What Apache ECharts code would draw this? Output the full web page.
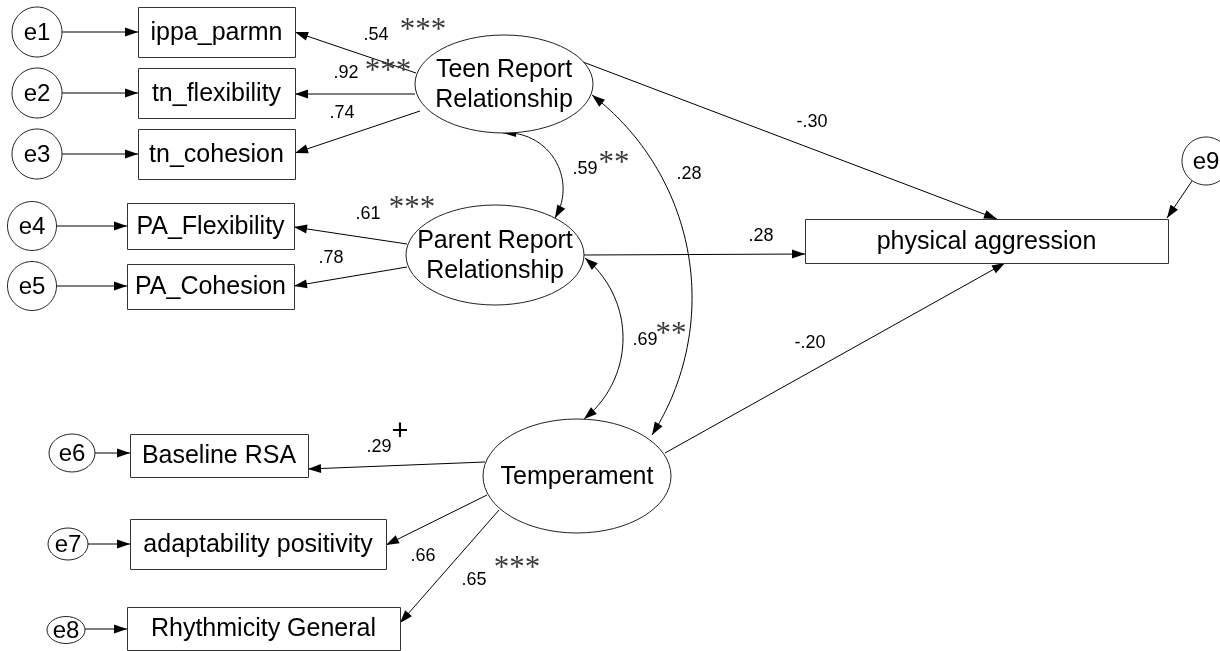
<!DOCTYPE html>
<html>
<head>
<meta charset="utf-8">
<script src="https://cdn.jsdelivr.net/npm/echarts@6/dist/echarts.min.js"></script>
<style>
  html, body { margin: 0; padding: 0; background: #ffffff; }
  #chart { width: 1220px; height: 651px; }
</style>
</head>
<body>
<div id="chart"></div>
<script>
// ---------- DATA (text and estimates) ----------
const errorTerms   = ['e1', 'e2', 'e3', 'e4', 'e5', 'e6', 'e7', 'e8', 'e9'];
const indicators   = ['ippa_parmn', 'tn_flexibility', 'tn_cohesion', 'PA_Flexibility', 'PA_Cohesion',
                      'Baseline RSA', 'adaptability positivity', 'Rhythmicity General'];
const outcomes     = ['physical aggression'];
const latents      = ['Teen Report\nRelationship', 'Parent Report\nRelationship', 'Temperament'];
const loadings     = ['.54', '.92', '.74', '.61', '.78', '.29', '.66', '.65'];
const loadingSig   = ['***', '***', '', '***', '', '+', '', '***'];
const structural   = ['-.30', '.28', '-.20'];
const covariances  = ['.59', '.28', '.69'];
const covarianceSig = ['**', '', '**'];

// ---------- LAYOUT (diagram geometry in the 1220 x 651 value space) ----------
const boxLayout = [ // x, y, w, h
  [138, 7, 157, 50], [138, 68, 157, 50], [138, 129, 157, 50],
  [127, 203, 167, 46], [127, 264, 167, 45],
  [130, 434, 178, 43], [130, 519, 256, 50], [127, 607, 273, 43],
  [805, 219, 363, 44]
];
const latentLayout = [ // cx, cy, rx, ry
  [504, 84, 89, 49], [495, 255, 89, 50], [577, 476, 94, 57]
];
const errorLayout = [ // cx, cy, rx, ry
  [37, 32, 25, 25], [37, 93, 25, 25], [37, 154, 25, 25],
  [32, 226, 24.5, 24.5], [32, 286, 24.5, 24.5],
  [72, 453, 23, 19], [68, 544, 20, 16], [66, 630, 19, 13.5],
  [1206, 161, 24, 24]
];
const pathLayout = [ // x1, y1, x2(tip), y2(tip)
  [62, 32, 138, 32], [62, 93, 138, 93], [62, 154, 138, 154],
  [57, 226, 127, 226], [57, 286, 127, 286],
  [95, 453, 130, 453], [88, 544, 130, 544], [85, 629, 127, 629],
  [1192, 181, 1167, 218],
  [416, 73, 295, 32], [415, 94, 295, 94], [420, 111, 295, 153],
  [407, 244, 294, 227], [407, 267, 294, 286],
  [583, 62, 997, 219], [584, 255, 805, 254], [665, 453, 1005, 263],
  [485, 462, 308, 469], [487, 495, 386, 545], [499, 510, 400, 623]
];
const arcLayout = [ // start tip, through point, end tip
  [503, 133, 562, 178, 555, 218],
  [592, 95, 692, 293, 652, 435],
  [585, 258, 623, 337, 584, 419]
];
const loadingPos = [[376, 35], [346, 73], [342, 113], [368, 214], [331, 258], [379, 447], [423, 556], [474, 580]];
const loadingSigPos = [[423, 24], [388, 65], null, [412, 202], null, [400, 432], null, [517, 562]];
const structuralPos = [[812, 122], [761, 236], [810, 343]];
const covariancePos = [[585, 169], [689, 174], [645, 340]];
const covarianceSigPos = [[614, 157], null, [671, 328]];

const SANS = '"Liberation Sans", Arial, Helvetica, sans-serif';
const SERIF = '"Liberation Serif", "Times New Roman", serif';
const NODE_FONT = 25;

function arrowHead(tip, from, len, hw) {
  const dx = tip[0] - from[0], dy = tip[1] - from[1];
  const d = Math.sqrt(dx * dx + dy * dy) || 1;
  const ux = dx / d, uy = dy / d;
  const bx = tip[0] - ux * len, by = tip[1] - uy * len;
  return {
    type: 'polygon',
    shape: { points: [tip, [bx - uy * hw, by + ux * hw], [bx + uy * hw, by - ux * hw]] },
    style: { fill: '#000' }
  };
}

function circleThrough(a, b, c) {
  const d = 2 * (a[0] * (b[1] - c[1]) + b[0] * (c[1] - a[1]) + c[0] * (a[1] - b[1]));
  const a2 = a[0] * a[0] + a[1] * a[1], b2 = b[0] * b[0] + b[1] * b[1], c2 = c[0] * c[0] + c[1] * c[1];
  const ux = (a2 * (b[1] - c[1]) + b2 * (c[1] - a[1]) + c2 * (a[1] - b[1])) / d;
  const uy = (a2 * (c[0] - b[0]) + b2 * (a[0] - c[0]) + c2 * (b[0] - a[0])) / d;
  return [ux, uy, Math.hypot(a[0] - ux, a[1] - uy)];
}

function norm(a) { while (a < 0) a += 2 * Math.PI; while (a >= 2 * Math.PI) a -= 2 * Math.PI; return a; }

const series = [];

// Observed variable boxes
series.push({
  type: 'custom', silent: true, z: 3,
  data: boxLayout.map((b, i) => ({ value: b, name: (indicators.concat(outcomes))[i] })),
  renderItem: function (params, api) {
    const p0 = api.coord([api.value(0), api.value(1)]);
    const p1 = api.coord([api.value(0) + api.value(2), api.value(1) + api.value(3)]);
    const name = (indicators.concat(outcomes))[params.dataIndex];
    return {
      type: 'group',
      children: [
        { type: 'rect', shape: { x: Math.round(p0[0]) + 0.5, y: Math.round(p0[1]) + 0.5, width: Math.round(p1[0] - p0[0]), height: Math.round(p1[1] - p0[1]) },
          style: { fill: '#fff', stroke: '#333', lineWidth: 1 } },
        { type: 'text', style: { text: name, x: (p0[0] + p1[0]) / 2, y: (p0[1] + p1[1]) / 2 + 1, align: 'center', verticalAlign: 'middle',
          fontSize: NODE_FONT, fontFamily: SANS, fill: '#000' } }
      ]
    };
  }
});

// Latent ellipses
series.push({
  type: 'custom', silent: true, z: 3,
  data: latentLayout.map((e, i) => ({ value: e, name: latents[i] })),
  renderItem: function (params, api) {
    const c = api.coord([api.value(0), api.value(1)]);
    const edge = api.coord([api.value(0) + api.value(2), api.value(1) + api.value(3)]);
    return {
      type: 'group',
      children: [
        { type: 'ellipse', shape: { cx: c[0], cy: c[1], rx: Math.abs(edge[0] - c[0]), ry: Math.abs(edge[1] - c[1]) },
          style: { fill: '#fff', stroke: '#222', lineWidth: 1 } },
        { type: 'text', style: { text: latents[params.dataIndex], x: c[0], y: c[1] + 1, align: 'center', verticalAlign: 'middle',
          fontSize: NODE_FONT, lineHeight: 30, fontFamily: SANS, fill: '#000' } }
      ]
    };
  }
});

// Error terms
series.push({
  type: 'custom', silent: true, z: 3,
  data: errorLayout.map((e, i) => ({ value: e, name: errorTerms[i] })),
  renderItem: function (params, api) {
    const c = api.coord([api.value(0), api.value(1)]);
    const edge = api.coord([api.value(0) + api.value(2), api.value(1) + api.value(3)]);
    return {
      type: 'group',
      children: [
        { type: 'ellipse', shape: { cx: c[0], cy: c[1], rx: Math.abs(edge[0] - c[0]), ry: Math.abs(edge[1] - c[1]) },
          style: { fill: '#fff', stroke: '#222', lineWidth: 1 } },
        { type: 'text', style: { text: errorTerms[params.dataIndex], x: c[0], y: c[1] + 1, align: 'center', verticalAlign: 'middle',
          fontSize: 24, fontFamily: SANS, fill: '#000' } }
      ]
    };
  }
});

// Single-headed paths
series.push({
  type: 'custom', silent: true, z: 2,
  data: pathLayout,
  renderItem: function (params, api) {
    const a = api.coord([api.value(0), api.value(1)]);
    const b = api.coord([api.value(2), api.value(3)]);
    return {
      type: 'group',
      children: [
        { type: 'line', shape: { x1: a[0], y1: a[1], x2: b[0], y2: b[1] }, style: { stroke: '#000', lineWidth: 1 } },
        arrowHead(b, a, 13, 4.5)
      ]
    };
  }
});

// Double-headed covariance arcs
series.push({
  type: 'custom', silent: true, z: 2,
  data: arcLayout,
  renderItem: function (params, api) {
    const a = api.coord([api.value(0), api.value(1)]);
    const m = api.coord([api.value(2), api.value(3)]);
    const b = api.coord([api.value(4), api.value(5)]);
    const [cx, cy, r] = circleThrough(a, m, b);
    const t0 = Math.atan2(a[1] - cy, a[0] - cx);
    const tm = Math.atan2(m[1] - cy, m[0] - cx);
    const t1 = Math.atan2(b[1] - cy, b[0] - cx);
    let sweep = norm(t1 - t0);
    if (norm(tm - t0) > sweep) sweep = sweep - 2 * Math.PI;
    const n = 80, pts = [];
    for (let i = 0; i <= n; i++) {
      const t = t0 + sweep * i / n;
      pts.push([cx + r * Math.cos(t), cy + r * Math.sin(t)]);
    }
    return {
      type: 'group',
      children: [
        { type: 'polyline', shape: { points: pts }, style: { stroke: '#000', lineWidth: 1, fill: null } },
        arrowHead(pts[0], pts[3], 13, 4.5),
        arrowHead(pts[n], pts[n - 3], 13, 4.5)
      ]
    };
  }
});

// Coefficient labels and significance marks
const labelItems = [];
loadings.forEach((t, i) => labelItems.push({ value: loadingPos[i], text: t, kind: 'num' }));
loadingSig.forEach((t, i) => { if (t) labelItems.push({ value: loadingSigPos[i], text: t, kind: t === '+' ? 'plus' : 'star' }); });
structural.forEach((t, i) => labelItems.push({ value: structuralPos[i], text: t, kind: 'num' }));
covariances.forEach((t, i) => labelItems.push({ value: covariancePos[i], text: t, kind: 'num' }));
covarianceSig.forEach((t, i) => { if (t) labelItems.push({ value: covarianceSigPos[i], text: t, kind: 'star' }); });

series.push({
  type: 'custom', silent: true, z: 4,
  data: labelItems.map(d => ({ value: d.value })),
  renderItem: function (params, api) {
    const p = api.coord([api.value(0), api.value(1)]);
    const d = labelItems[params.dataIndex];
    let style;
    if (d.kind === 'num') {
      style = { fontSize: 18, fontFamily: SANS, fill: '#000' };
    } else if (d.kind === 'plus') {
      style = { fontSize: 29, fontFamily: SANS, fill: '#000' };
    } else {
      style = { fontSize: 31, fontFamily: SERIF, fill: '#3a3a3a' };
    }
    return {
      type: 'text',
      style: Object.assign({ text: d.text, x: p[0], y: d.kind === 'star' ? p[1] + 7 : p[1], align: 'center', verticalAlign: 'middle' }, style)
    };
  }
});

const chart = echarts.init(document.getElementById('chart'), null, { renderer: 'canvas' });
chart.setOption({
  animation: false,
  backgroundColor: '#ffffff',
  grid: { left: 0, right: 0, top: 0, bottom: 0, containLabel: false },
  xAxis: { type: 'value', min: 0, max: 1220, show: false },
  yAxis: { type: 'value', min: 0, max: 651, inverse: true, show: false },
  series: series
});
</script>
</body>
</html>
